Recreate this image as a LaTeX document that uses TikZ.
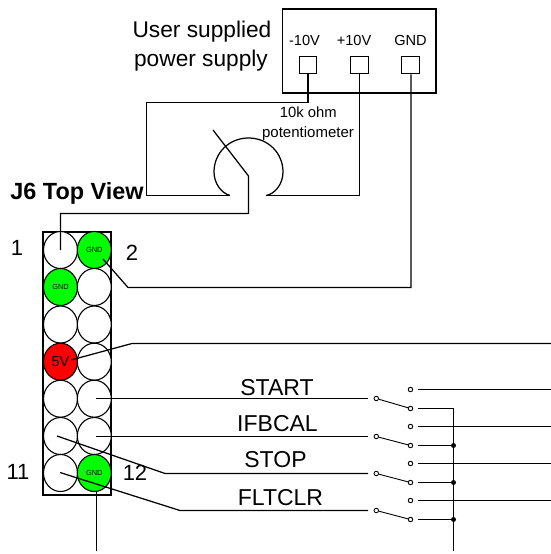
\documentclass[tikz,border=0pt]{standalone}
\usepackage{fontspec}
\setmainfont{Liberation Sans}
\usetikzlibrary{shapes.geometric}
\definecolor{pingreen}{RGB}{0,255,0}
\definecolor{pinred}{RGB}{255,0,0}
\newcommand{\fs}[1]{\fontsize{#1}{#1}\selectfont}
\tikzset{
  wire/.style={line width=1.25pt,black,line join=miter},
  pin/.style={shape=ellipse,draw=black,line width=1.1pt,minimum width=34pt,minimum height=37pt,inner sep=0pt,fill=white},
  gndpin/.style={pin,fill=pingreen,font=\fs{7.4}},
  vpin/.style={pin,fill=pinred,font=\fs{14.5}},
  term/.style={draw=black,line width=1.1pt,minimum size=17.5pt,inner sep=0pt},
  contact/.style={circle,draw=black,line width=0.9pt,minimum size=4.5pt,inner sep=0pt,fill=white},
  junction/.style={circle,fill=black,minimum size=5pt,inner sep=0pt},
  lbl/.style={inner sep=0pt,text=black,anchor=base},
  sig/.style={lbl,font=\fs{23}},
  small/.style={lbl,font=\fs{14.6}},
  big/.style={lbl,font=\fs{22.7}},
  num/.style={lbl,font=\fs{22}},
}
\begin{document}
\begin{tikzpicture}[x=1pt,y=-1pt]
\useasboundingbox (0,0) rectangle (551,554);
\fill[white] (0,0) rectangle (551,554);
% supply
\node[draw=black,line width=1.1pt,minimum width=153.5pt,minimum height=84pt,inner sep=0pt] (box) at (359.2,51) {};
\node[term] (tm) at (308,65) {};
\node[term] (tp) at (359.5,65) {};
\node[term] (tg) at (410.5,65) {};
\node[small] (lm) at (304.5,45) {-10V};
\node[small] (lp) at (354,45) {+10V};
\node[small] (lg) at (410.5,45) {GND};
\node[big] (us) at (202,37.5) {User supplied};
\node[big] (ps) at (201,66.5) {power supply};
\node[lbl,font=\fs{14.8}] (ko) at (308.3,117.5) {10k ohm};
\node[lbl,font=\fs{15}] (po) at (308,137) {potentiometer};
% header
\node[draw=black,line width=1.2pt,minimum width=68pt,minimum height=263pt,inner sep=0pt] (hdr) at (77,363.5) {};
\node[pin] (p1) at (60.5,250) {};
\node[gndpin] (p2) at (94.3,250) {GND};
\node[gndpin] (p3) at (60.5,287) {GND};
\node[pin] (p4) at (94.3,287) {};
\node[pin] (p5) at (60.5,324.5) {};
\node[pin] (p6) at (94.3,324.5) {};
\node[vpin] (p7) at (60.5,361.7) {5V};
\node[pin] (p8) at (94.3,361.7) {};
\node[pin] (p9) at (60.5,398.7) {};
\node[pin] (p10) at (94.3,398.7) {};
\node[pin] (p11a) at (60.5,436) {};
\node[pin] (p12a) at (94.3,436) {};
\node[pin] (p13) at (60.5,473) {};
\node[gndpin] (p14) at (94.3,473) {GND};
% pin numbers
\node[num] (n1) at (17,255) {1};
\node[num] (n2) at (132,260) {2};
\node[num] (n11) at (18,479) {11};
\node[num] (n12) at (135,480.5) {12};
\node[lbl,font=\bfseries\fs{23.4}] (j6) at (77,199.3) {J6 Top View};
% coordinates
\coordinate (potL) at (230,195.5);
\coordinate (potR) at (266,195.5);
\coordinate (wipT) at (213,130);
\coordinate (wipB) at (248.5,176);
% potentiometer
\draw[wire] (potL) .. controls (221,193) and (214,183) .. (214,172)
  .. controls (214,153) and (229,138) .. (248.5,138)
  .. controls (268,138) and (283,153) .. (283,172)
  .. controls (283,184) and (275,194) .. (potR);
\draw[wire] (wipT) -- (wipB) -- (248.5,213.5) -- (60.5,213.5) -- (p1.center);
\draw[wire] (tm.south) -- (308,102.5) -- (146.5,102.5) -- (146.5,195.5) -- (potL);
\draw[wire] (tp.south) -- (359.5,195.5) -- (potR);
% GND wire
\coordinate (g2) at (103,259);
\draw[wire] (tg.south -| 411,0) -- (411,287.5) -- (128,287.5) -- (g2);
% signal wires
\coordinate (v5) at (71,360);
\draw[wire] (v5) -- (132,343.5) -- (551,343.5);
% switches
\foreach \n/\yl/\yu/\yd in {a/398.5/389.5/408.5,b/436.5/426.5/445.5,c/473.5/463.5/482.5,d/510.5/500.5/519.5}{
  \node[contact] (cl\n) at (376.3,\yl) {};
  \node[contact] (cu\n) at (410.5,\yu) {};
  \node[contact] (cd\n) at (410.5,\yd) {};
  \draw[line width=0.9pt] (cl\n) -- (cd\n);
  \draw[wire] (418.3,\yu) -- (551,\yu);
  \draw[wire] (418.3,\yd) -- (453.5,\yd);
}
\draw[wire] (453.5,407.9) -- (453.5,551);
\node[junction] (ja) at (453.5,445.5) {};
\node[junction] (jb) at (453.5,482.5) {};
\node[junction] (jc) at (453.5,519.5) {};
\coordinate (wa) at (96,398.5);
\coordinate (wb) at (96,436.5);
\coordinate (wc) at (57,436);
\coordinate (wd) at (60,472.5);
\draw[wire] (wa) -- (368,398.5);
\draw[wire] (wb) -- (368,436.5);
\draw[wire] (wc) -- (165,473.5) -- (368,473.5);
\draw[wire] (wd) -- (180,510.5) -- (368,510.5);
\draw[wire] (96.5,491.5) -- (96.5,551);
\node[sig] (s1) at (277,395) {START};
\node[sig] (s2) at (277.5,431.7) {IFBCAL};
\node[sig] (s3) at (275.5,467.5) {STOP};
\node[sig] (s4) at (280.5,505) {FLTCLR};
\end{tikzpicture}
\end{document}
